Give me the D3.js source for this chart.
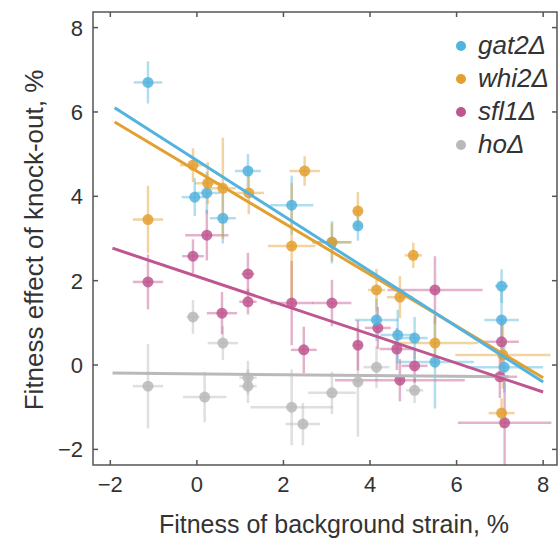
<!DOCTYPE html>
<html>
<head>
<meta charset="utf-8">
<script src="https://cdn.jsdelivr.net/npm/d3@7"></script>
<style>
  body { margin: 0; background: #fff; }
  svg { font-family: "Liberation Sans", Arial, sans-serif; }
</style>
</head>
<body>
<svg id="chart"></svg>
<script>
// chart size and plot box (pixels)
let width = 558;
let height = 538;
let box = { left: 93, top: 12, right: 557, bottom: 465 };

// series names, colours
const names = ["gat2Δ", "whi2Δ", "sfl1Δ", "hoΔ"];
const colors = ["#52b3de", "#e3a030", "#c0568f", "#b9b9b9"];

// points per series: background fitness, knock-out effect, x error, y error
const gatX  = [-1.13, -0.05, 0.23, 0.6, 1.18, 2.19, 3.12, 3.72, 4.15, 4.64, 5.03, 5.5, 7.04, 7.04, 7.1];
const gatY  = [6.7, 3.98, 4.08, 3.48, 4.6, 3.79, 2.91, 3.3, 1.07, 0.71, 0.64, 0.07, 1.87, 1.07, -0.05];
const gatXe = [0.33, 0.3, 0.3, 0.3, 0.3, 0.5, 0.45, 0.1, 0.5, 0.4, 0.3, 0.9, 0.15, 0.4, 0.9];
const gatYe = [0.5, 0.45, 0.5, 0.6, 0.4, 0.7, 0.5, 0.35, 0.5, 0.6, 0.5, 1.1, 0.4, 0.7, 0.6];

const whiX  = [-1.13, -0.09, 0.25, 0.6, 1.2, 2.49, 2.19, 3.72, 3.12, 5.0, 4.15, 4.69, 5.5, 7.07, 7.04];
const whiY  = [3.45, 4.74, 4.31, 4.19, 4.08, 4.6, 2.82, 3.65, 2.91, 2.6, 1.78, 1.61, 0.52, 0.24, -1.14];
const whiXe = [0.35, 0.3, 0.3, 0.3, 0.35, 0.35, 0.55, 0.1, 0.45, 0.2, 0.2, 0.3, 1.0, 1.1, 0.3];
const whiYe = [0.8, 0.4, 0.5, 1.2, 0.5, 0.35, 1.5, 0.45, 0.45, 0.3, 0.5, 0.5, 0.6, 0.8, 0.35];

const sflX  = [-1.13, -0.09, 0.23, 1.18, 1.18, 0.58, 2.19, 3.12, 2.47, 3.72, 4.18, 4.62, 4.69, 5.03, 5.5, 7.04, 7.0, 7.11];
const sflY  = [1.97, 2.58, 3.08, 2.16, 1.5, 1.23, 1.47, 1.47, 0.36, 0.47, 0.88, 0.38, -0.36, -0.02, 1.78, 0.55, -0.28, -1.37];
const sflXe = [0.35, 0.25, 0.5, 0.15, 0.2, 0.35, 0.5, 0.45, 0.3, 0.1, 0.3, 0.4, 1.5, 0.3, 1.1, 0.4, 0.4, 1.08];
const sflYe = [0.65, 0.4, 0.6, 0.5, 0.3, 0.5, 1.0, 0.55, 0.55, 0.6, 0.5, 0.5, 0.5, 0.4, 0.8, 0.6, 0.5, 1.0];

const hoX  = [-1.13, -0.09, 0.6, 0.18, 1.18, 1.18, 2.19, 2.45, 3.12, 3.72, 4.15, 5.03];
const hoY  = [-0.5, 1.14, 0.52, -0.76, -0.5, -0.3, -1.0, -1.4, -0.66, -0.4, -0.05, -0.6];
const hoXe = [0.35, 0.15, 0.35, 0.5, 0.2, 0.2, 0.95, 0.4, 0.55, 0.1, 0.3, 0.2];
const hoYe = [1.0, 0.4, 0.4, 0.6, 0.4, 0.4, 0.9, 0.5, 0.5, 1.3, 0.5, 0.3];

// fitted lines: [x0, y0, x1, y1]
const gatFit = [-1.9, 6.1, 8.0, -0.4];
const whiFit = [-1.9, 5.76, 8.0, -0.3];
const sflFit = [-1.95, 2.77, 8.0, -0.64];
const hoFit  = [-1.95, -0.19, 7.2, -0.28];

const xTicks = [-2, 0, 2, 4, 6, 8];
const yTicks = [-2, 0, 2, 4, 6, 8];

function makeSeries(xs, ys, xe, ye) {
  return xs.map((x, i) => ({ x: x, y: ys[i], xe: xe[i], ye: ye[i] }));
}
let series = [
  makeSeries(gatX, gatY, gatXe, gatYe),
  makeSeries(whiX, whiY, whiXe, whiYe),
  makeSeries(sflX, sflY, sflXe, sflYe),
  makeSeries(hoX, hoY, hoXe, hoYe)
];
let fits = [gatFit, whiFit, sflFit, hoFit];
// draw order: grey first, blue and orange on top
let order = [3, 2, 0, 1];

let svg = d3.select('#chart')
  .attr('width', width)
  .attr('height', height);

let xScale = d3.scaleLinear()
  .domain([-2.4, 8.32])
  .range([box.left, box.right]);
let yScale = d3.scaleLinear()
  .domain([-2.37, 8.37])
  .range([box.bottom, box.top]);

// error bars
let bars = svg.append('g');
order.forEach(function(s) {
  let g = bars.append('g')
    .style('stroke', colors[s])
    .style('stroke-opacity', 0.45)
    .style('stroke-width', 2.5);
  g.selectAll('.h').data(series[s]).enter().append('line')
    .attr('x1', d => xScale(d.x - d.xe))
    .attr('x2', d => xScale(d.x + d.xe))
    .attr('y1', d => yScale(d.y))
    .attr('y2', d => yScale(d.y));
  g.selectAll('.v').data(series[s]).enter().append('line')
    .attr('x1', d => xScale(d.x))
    .attr('x2', d => xScale(d.x))
    .attr('y1', d => yScale(d.y - d.ye))
    .attr('y2', d => yScale(d.y + d.ye));
});

// points
order.forEach(function(s) {
  svg.append('g').selectAll('circle')
    .data(series[s]).enter().append('circle')
    .attr('cx', d => xScale(d.x))
    .attr('cy', d => yScale(d.y))
    .attr('r', 5.5)
    .style('fill', colors[s])
    .style('fill-opacity', 0.85);
});

// fitted lines
[3, 2, 1, 0].forEach(function(s) {
  let f = fits[s];
  svg.append('line')
    .attr('x1', xScale(f[0]))
    .attr('y1', yScale(f[1]))
    .attr('x2', xScale(f[2]))
    .attr('y2', yScale(f[3]))
    .style('stroke', colors[s])
    .style('stroke-width', 3);
});

// frame and inward ticks
let axisColor = '#555';
let axes = svg.append('g').style('stroke', axisColor).style('stroke-width', 1.5);
axes.append('rect')
  .attr('x', box.left).attr('y', box.top)
  .attr('width', box.right - box.left).attr('height', box.bottom - box.top)
  .style('fill', 'none');
xTicks.forEach(function(t) {
  axes.append('line').attr('x1', xScale(t)).attr('x2', xScale(t))
    .attr('y1', box.bottom).attr('y2', box.bottom - 5);
  axes.append('line').attr('x1', xScale(t)).attr('x2', xScale(t))
    .attr('y1', box.top).attr('y2', box.top + 5);
});
yTicks.forEach(function(t) {
  axes.append('line').attr('x1', box.left).attr('x2', box.left + 5)
    .attr('y1', yScale(t)).attr('y2', yScale(t));
  axes.append('line').attr('x1', box.right).attr('x2', box.right - 5)
    .attr('y1', yScale(t)).attr('y2', yScale(t));
});

// tick labels
let textColor = '#333';
svg.append('g').selectAll('text')
  .data(xTicks).enter().append('text')
  .attr('x', d => xScale(d))
  .attr('y', 492)
  .attr('text-anchor', 'middle')
  .style('font-size', '22px')
  .style('fill', textColor)
  .text(d => d < 0 ? '\u2212' + Math.abs(d) : d);
svg.append('g').selectAll('text')
  .data(yTicks).enter().append('text')
  .attr('x', 83)
  .attr('y', d => yScale(d) + 8)
  .attr('text-anchor', 'end')
  .style('font-size', '22px')
  .style('fill', textColor)
  .text(d => d < 0 ? '\u2212' + Math.abs(d) : d);

// axis titles
svg.append('text')
  .attr('x', 334)
  .attr('y', 533)
  .attr('text-anchor', 'middle')
  .style('font-size', '25px')
  .style('fill', textColor)
  .text('Fitness of background strain, %');
svg.append('text')
  .attr('transform', 'translate(43,240) rotate(-90)')
  .attr('text-anchor', 'middle')
  .style('font-size', '26px')
  .style('fill', textColor)
  .text('Fitness effect of knock-out, %');

// legend
let legend = svg.append('g');
names.forEach(function(n, i) {
  let y = 46 + i * 33;
  legend.append('circle')
    .attr('cx', 461).attr('cy', y).attr('r', 5)
    .style('fill', colors[i]);
  legend.append('text')
    .attr('x', 478).attr('y', y + 8)
    .style('font-size', '26px')
    .style('font-style', 'italic')
    .style('fill', textColor)
    .text(n);
});
</script>
</body>
</html>
